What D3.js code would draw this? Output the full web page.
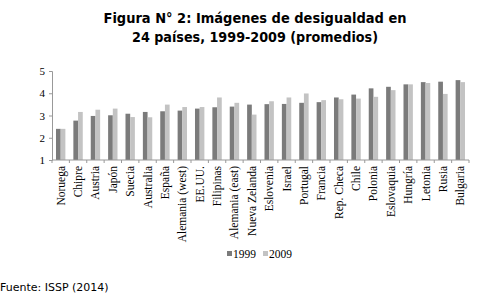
<!DOCTYPE html>
<html>
<head>
<meta charset="utf-8">
<script src="https://cdn.jsdelivr.net/npm/d3@7"></script>
<style>
  body { margin: 0; background: #fff; }
  svg text { fill: #000; }
</style>
</head>
<body>
<div id="chart"></div>
<script>
// Data
const paises = ['Noruega', 'Chipre', 'Austria', 'Japón', 'Suecia', 'Australia', 'España',
    'Alemania (west)', 'EE.UU.', 'Filipinas', 'Alemania (east)', 'Nueva Zelanda', 'Eslovenia',
    'Israel', 'Portugal', 'Francia', 'Rep. Checa', 'Chile', 'Polonia', 'Eslovaquia',
    'Hungría', 'Letonia', 'Rusia', 'Bulgaria'];
const valores1999 = [2.40, 2.77, 2.98, 3.01, 3.08, 3.16, 3.19, 3.22, 3.31, 3.37, 3.40, 3.49,
    3.51, 3.52, 3.57, 3.60, 3.81, 3.94, 4.22, 4.29, 4.40, 4.50, 4.52, 4.59];
const valores2009 = [2.40, 3.16, 3.26, 3.31, 2.93, 2.92, 3.49, 3.38, 3.38, 3.81, 3.57, 3.04,
    3.64, 3.81, 3.99, 3.69, 3.73, 3.76, 3.84, 4.14, 4.40, 4.46, 3.97, 4.50];
const series = ['1999', '2009'];
const yTicks = [1, 2, 3, 4, 5];

const colores = { '1999': '#7b7b7b', '2009': '#c3c3c3' };

const width = 480, height = 298;
const margin = { top: 71, left: 52, right: 11, bottom: 138 };

const svg = d3.select('#chart').append('svg')
    .attr('width', width)
    .attr('height', height);

// Title
const title = svg.append('text')
    .attr('text-anchor', 'middle')
    .style('font-family', 'DejaVu Sans, Verdana, sans-serif')
    .style('font-weight', 'bold')
    .style('font-size', '14px');
title.append('tspan').attr('x', 255).attr('y', 23)
    .attr('textLength', 303).attr('lengthAdjust', 'spacingAndGlyphs')
    .text('Figura N° 2: Imágenes de desigualdad en');
title.append('tspan').attr('x', 255).attr('y', 42)
    .attr('textLength', 246).attr('lengthAdjust', 'spacingAndGlyphs')
    .text('24 países, 1999-2009 (promedios)');

const x = d3.scaleBand()
    .domain(paises)
    .range([margin.left, width - margin.right])
    .paddingInner(0.46)
    .paddingOuter(0.23);

const xSub = d3.scaleBand()
    .domain(series)
    .range([0, x.bandwidth()]);

const y = d3.scaleLinear()
    .domain([1, 5])
    .range([height - margin.bottom, margin.top]);

const rows = paises.map((p, i) => ({ pais: p, '1999': valores1999[i], '2009': valores2009[i] }));

// Bars
const grupos = svg.append('g').selectAll('g')
    .data(rows)
    .enter().append('g')
    .attr('transform', d => `translate(${x(d.pais)},0)`);

grupos.selectAll('rect')
    .data(d => series.map(s => ({ serie: s, valor: d[s] })))
    .enter().append('rect')
    .attr('x', d => xSub(d.serie))
    .attr('y', d => y(d.valor))
    .attr('width', xSub.bandwidth())
    .attr('height', d => y(1) - y(d.valor))
    .attr('fill', d => colores[d.serie]);

// Y axis
const yAxis = svg.append('g')
    .attr('transform', `translate(${margin.left},0)`)
    .call(d3.axisLeft(y).tickValues(yTicks).tickSize(3).tickFormat(d3.format('d')));
yAxis.select('.domain').attr('stroke', '#999');
yAxis.selectAll('.tick line').attr('stroke', '#999');
yAxis.selectAll('.tick text')
    .attr('x', -7)
    .style('font-family', 'Liberation Serif, Times New Roman, serif')
    .style('font-size', '11px');

// X axis with boundary ticks between categories
const xAxis = svg.append('g')
    .attr('transform', `translate(0,${y(1)})`);
xAxis.append('line')
    .attr('x1', margin.left).attr('x2', width - margin.right)
    .attr('stroke', '#999');
const step = x.step();
xAxis.selectAll('line.sep')
    .data(d3.range(paises.length + 1))
    .enter().append('line')
    .attr('class', 'sep')
    .attr('x1', i => margin.left + i * step)
    .attr('x2', i => margin.left + i * step)
    .attr('y1', 0).attr('y2', 3)
    .attr('stroke', '#999');
xAxis.selectAll('text')
    .data(paises)
    .enter().append('text')
    .attr('transform', d => `translate(${x(d) + x.bandwidth() / 2 + 4},6) rotate(-90)`)
    .attr('text-anchor', 'end')
    .style('font-family', 'Liberation Serif, Times New Roman, serif')
    .style('font-size', '11.5px')
    .text(d => d);

// Legend
const legend = svg.append('g')
    .attr('transform', 'translate(227,258)');
const legendItems = legend.selectAll('g')
    .data(series)
    .enter().append('g')
    .attr('transform', (d, i) => `translate(${i * 36},0)`);
legendItems.append('rect')
    .attr('x', 0).attr('y', -7)
    .attr('width', 5).attr('height', 5)
    .attr('fill', d => colores[d]);
legendItems.append('text')
    .attr('x', 6).attr('y', 0)
    .style('font-family', 'Liberation Serif, Times New Roman, serif')
    .style('font-size', '11.5px')
    .text(d => d);

// Source
svg.append('text')
    .attr('x', 0).attr('y', 291)
    .style('font-family', 'DejaVu Sans, Verdana, sans-serif')
    .style('font-size', '11px')
    .text('Fuente: ISSP (2014)');
</script>
</body>
</html>
